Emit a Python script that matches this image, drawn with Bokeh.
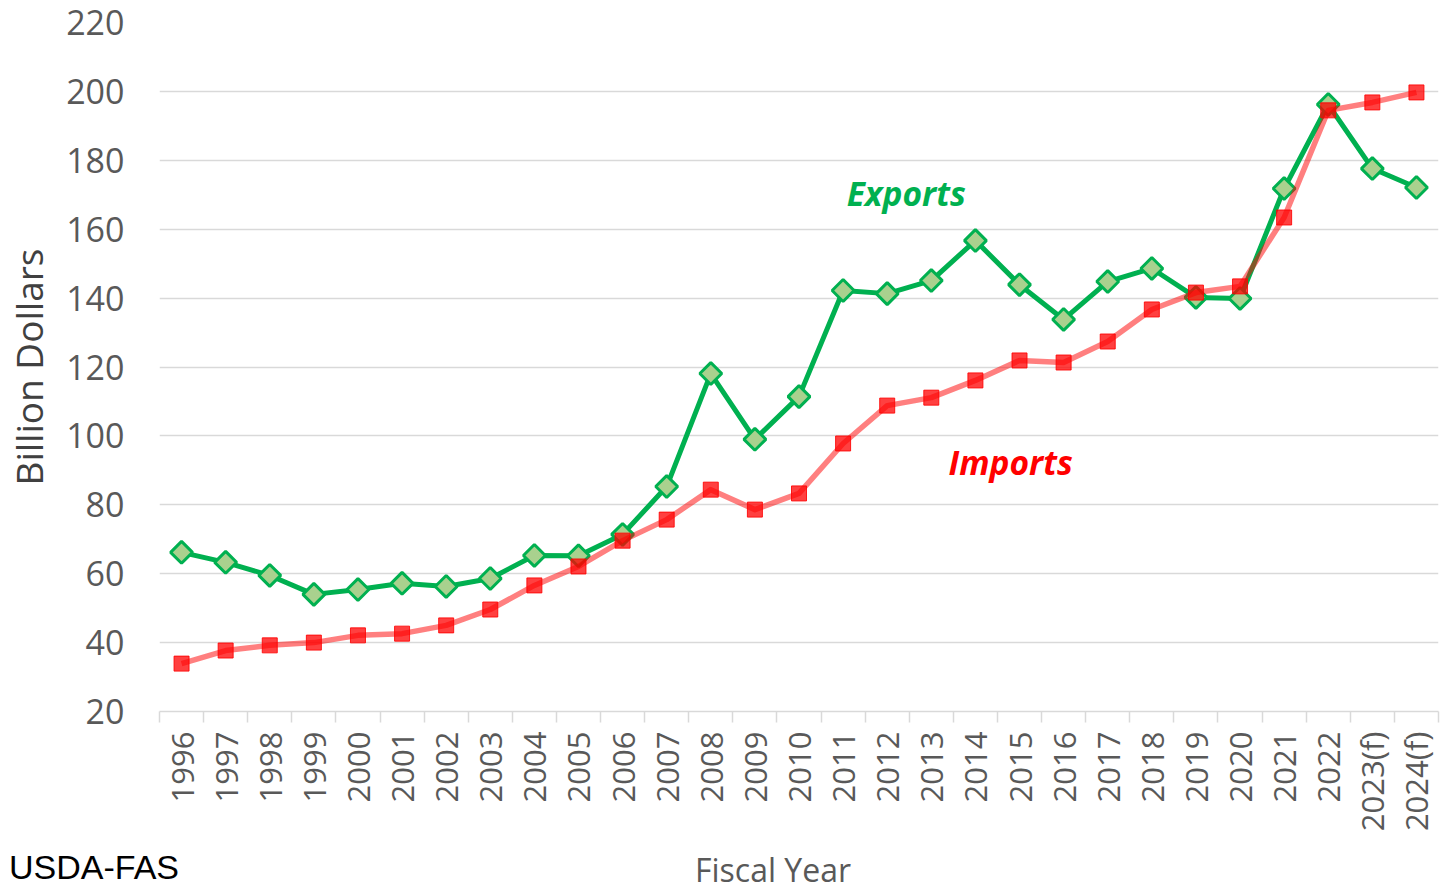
import math
from bokeh.plotting import figure
from bokeh.layouts import column
from bokeh.models import FixedTicker, Label, Range1d, Div
from bokeh.embed import file_html
from bokeh.resources import INLINE

years = ["1996", "1997", "1998", "1999", "2000", "2001", "2002", "2003", "2004",
         "2005", "2006", "2007", "2008", "2009", "2010", "2011", "2012", "2013",
         "2014", "2015", "2016", "2017", "2018", "2019", "2020", "2021", "2022",
         "2023(f)", "2024(f)"]
exports = [66.2, 63.3, 59.5, 54.0, 55.4, 57.2, 56.3, 58.6, 65.3, 65.2, 71.4, 85.3,
           118.1, 99.0, 111.4, 142.2, 141.3, 145.1, 156.7, 143.9, 133.8, 144.8,
           148.6, 140.2, 139.9, 171.8, 196.2, 177.6, 172.1]
imports = [33.9, 37.7, 39.2, 40.0, 42.1, 42.6, 45.0, 49.6, 56.6, 62.1, 69.6, 75.7,
           84.4, 78.6, 83.3, 97.8, 108.8, 111.1, 116.1, 121.9, 121.3, 127.4,
           136.7, 141.6, 143.4, 163.4, 194.5, 196.8, 199.7]
y_ticks = [20, 40, 60, 80, 100, 120, 140, 160, 180, 200, 220]

x_idx = list(range(len(years)))
FONT = "Open Sans"
GRID = "#d9d9d9"
TXT = "#595959"

p = figure(frame_width=1279, frame_height=689, output_backend="svg",
           toolbar_location=None,
           x_range=Range1d(-0.5, len(years) - 0.5), y_range=Range1d(20, 220),
           min_border_left=158, min_border_right=11, min_border_top=22,
           min_border_bottom=135)
p.outline_line_color = None
p.background_fill_color = "white"

# grid
p.xgrid.grid_line_color = None
p.ygrid.ticker = FixedTicker(ticks=y_ticks)
p.ygrid.grid_line_color = GRID
p.ygrid.grid_line_width = 1.5

# y axis
ya = p.yaxis[0]
ya.ticker = FixedTicker(ticks=y_ticks)
ya.axis_line_color = None
ya.major_tick_line_color = None
ya.minor_tick_line_color = None
ya.major_tick_out = 0
ya.major_label_standoff = 35
ya.major_label_text_font = FONT
ya.major_label_text_font_size = "34px"
ya.major_label_text_color = TXT
ya.axis_label = "Billion Dollars"
ya.axis_label_text_font = FONT
ya.axis_label_text_font_size = "37px"
ya.axis_label_text_font_style = "normal"
ya.axis_label_text_color = "#404040"
ya.axis_label_standoff = 9

# x axis
xa = p.xaxis[0]
xa.ticker = FixedTicker(ticks=x_idx, minor_ticks=[i - 0.5 for i in range(len(years) + 1)])
xa.major_label_overrides = {i: y for i, y in zip(x_idx, years)}
xa.major_label_orientation = math.pi / 2
xa.major_tick_line_color = None
xa.major_tick_out = 0
xa.major_tick_in = 0
xa.minor_tick_line_color = GRID
xa.minor_tick_line_width = 1.5
xa.minor_tick_out = 11
xa.minor_tick_in = 0
xa.axis_line_color = GRID
xa.axis_line_width = 1.5
xa.major_label_standoff = 9
xa.major_label_text_font = FONT
xa.major_label_text_font_size = "31px"
xa.major_label_text_color = TXT

# series
p.line(x_idx, exports, line_color="#00B050", line_width=5, line_join="round")
p.scatter(x_idx, exports, marker="square", angle=math.pi / 4, size=15.5,
          fill_color="#A9D18E", line_color="#00B050", line_width=3)
p.line(x_idx, imports, line_color="#FF0000", line_alpha=0.5, line_width=5.5,
       line_join="round")
p.scatter(x_idx, imports, marker="square", size=15, fill_color="#FF0000",
          fill_alpha=0.75, line_color="#FF0000", line_alpha=0.85, line_width=1)

# series annotations
p.add_layout(Label(x=15.08, y=170.4, text="Exports", text_font=FONT,
                   text_font_size="33.5px", text_font_style="bold italic",
                   text_color="#00B050", text_align="left", text_baseline="middle"))
p.add_layout(Label(x=17.39, y=92.3, text="Imports", text_font=FONT,
                   text_font_size="33.5px", text_font_style="bold italic",
                   text_color="#FF0000", text_align="left", text_baseline="middle"))

# bottom strip: source note and x-axis title
strip_html = (
    '<div style="position:relative;width:1448px;height:44px;margin:0;padding:0;">'
    '<span style="position:absolute;left:9px;top:4px;font-family:\'Liberation Sans\';'
    'font-size:34px;line-height:34px;color:#000000;white-space:nowrap;">USDA-FAS</span>'
    '<span style="position:absolute;left:695px;top:8px;font-family:\'Open Sans\';'
    'font-size:32px;line-height:32px;color:#595959;white-space:nowrap;">Fiscal Year</span>'
    '</div>'
)
strip = Div(text=strip_html, width=1448, height=44, margin=0)

layout = column(p, strip, spacing=0)
open("out.html", "w").write(file_html(layout, INLINE))
